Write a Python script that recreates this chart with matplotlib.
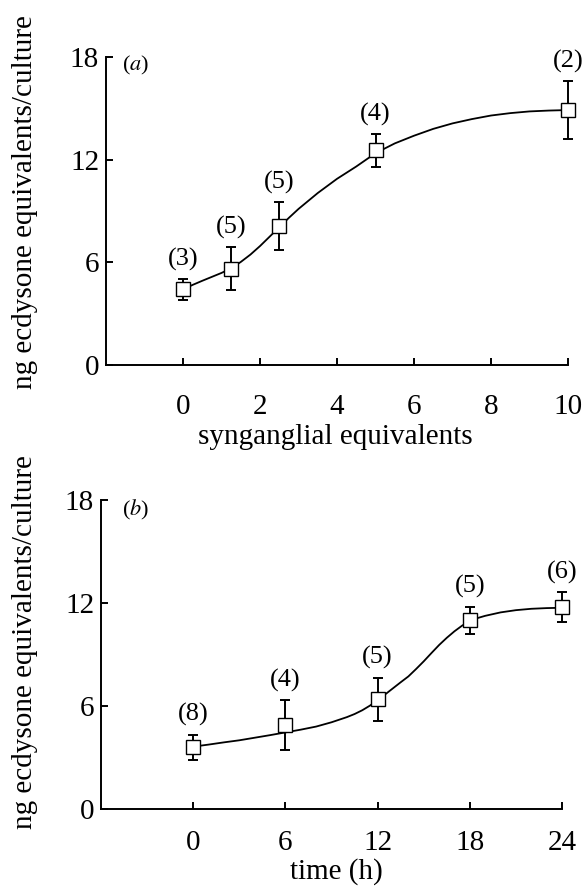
import matplotlib
matplotlib.use('Agg')
import matplotlib.pyplot as plt

plt.rcParams['font.family'] = 'serif'
plt.rcParams['font.serif'] = ['Liberation Serif', 'DejaVu Serif']
plt.rcParams['mathtext.fontset'] = 'stix'

# panel (a): synganglial equivalents
syn_x = [0, 1.25, 2.5, 5, 10]
syn_mean = [4.42, 5.63, 8.1, 12.55, 14.9]
syn_err = [0.6, 1.26, 1.4, 0.95, 1.7]
syn_n = ['(3)', '(5)', '(5)', '(4)', '(2)']
# fitted curve
syn_fit_x = [0, 0.25, 0.5, 0.75, 1.0, 1.25, 1.5, 1.75, 2.0, 2.25, 2.5, 2.75, 3.0,
             3.5, 4.0, 4.5, 5.0, 5.5, 6.0, 6.5, 7.0, 7.5, 8.0, 8.5, 9.0, 9.5, 10]
syn_fit_y = [4.42, 4.68, 4.92, 5.15, 5.38, 5.65, 6.02, 6.45, 6.95, 7.5, 8.05, 8.6, 9.12,
             10.05, 10.88, 11.6, 12.38, 12.95, 13.4, 13.8, 14.12, 14.37, 14.58,
             14.72, 14.82, 14.87, 14.9]

# panel (b): time course
time_x = [0, 6, 12, 18, 24]
time_mean = [3.6, 4.9, 6.4, 11.0, 11.75]
time_err = [0.72, 1.45, 1.25, 0.78, 0.88]
time_n = ['(8)', '(4)', '(5)', '(5)', '(6)']
time_fit_x = [0, 1, 2, 3, 4, 5, 6, 7, 8, 9, 10, 10.5, 11, 11.5, 12, 12.5, 13, 13.5,
              14, 14.5, 15, 15.5, 16, 16.5, 17, 17.5, 18, 18.5, 19, 20, 21, 22, 23, 24]
time_fit_y = [3.63, 3.75, 3.88, 4.0, 4.15, 4.3, 4.46, 4.62, 4.8, 5.05, 5.35, 5.53,
              5.75, 6.02, 6.35, 6.68, 7.03, 7.38, 7.72, 8.15, 8.6, 9.08, 9.55, 9.97,
              10.35, 10.68, 10.95, 11.12, 11.25, 11.45, 11.58, 11.66, 11.7, 11.72]

ylab = 'ng ecdysone equivalents/culture'
lw = 1.4


def panel(ax, x, m, e, n, fx, fy, xlim, xticks, tag, tag_pos, xpad):
    ax.plot(fx, fy, color='k', lw=1.3, zorder=2, clip_on=False)
    ax.errorbar(x, m, yerr=e, fmt='none', ecolor='k', elinewidth=lw,
                capsize=3.4, capthick=lw, zorder=2.5, clip_on=False)
    ax.plot(x, m, 's', ms=9.5, mfc='white', mec='k', mew=1.0, zorder=3,
            clip_on=False)
    for xi, mi, ei, lab in zip(x, m, e, n):
        ax.annotate(lab, (xi, mi + ei), xytext=(0, 6), textcoords='offset points',
                    ha='center', va='bottom', fontsize=19, annotation_clip=False)
    ax.set_xlim(*xlim)
    ax.set_ylim(0, 18)
    ax.set_xticks(xticks)
    ax.set_yticks([0, 6, 12, 18])
    ax.spines['top'].set_visible(False)
    ax.spines['right'].set_visible(False)
    ax.spines['left'].set_linewidth(lw)
    ax.spines['bottom'].set_linewidth(lw)
    ax.spines['bottom'].set_bounds(xlim[0], xticks[-1])
    ax.tick_params(axis='x', direction='in', length=5, width=lw, labelsize=21, pad=xpad)
    ax.tick_params(axis='y', direction='in', length=5, width=lw, labelsize=21, pad=5)
    ax.text(tag_pos[0], tag_pos[1], tag, transform=ax.transAxes,
            ha='left', va='center', fontsize=16)


fig = plt.figure(figsize=(5.86, 8.88), dpi=100)
ax1 = fig.add_axes([0.1809, 0.5890, 0.7884, 0.3468])
ax2 = fig.add_axes([0.1724, 0.0890, 0.7867, 0.3480])

panel(ax1, syn_x, syn_mean, syn_err, syn_n, syn_fit_x, syn_fit_y,
      (-2, 10), [0, 2, 4, 6, 8, 10], r'($\mathit{a}$)', (0.035, 0.974), 21)
panel(ax2, time_x, time_mean, time_err, time_n, time_fit_x, time_fit_y,
      (-6, 24), [0, 6, 12, 18, 24], r'($\mathit{b}$)', (0.046, 0.968), 15)

fig.text(335.5 / 586, 1 - 437 / 888, 'synganglial equivalents', ha='center',
         va='center', fontsize=21)
fig.text(336.5 / 586, 1 - 872 / 888, 'time (h)', ha='center', va='center',
         fontsize=21)
fig.text(25 / 586, 1 - 202 / 888, ylab, rotation=90, ha='center', va='center',
         fontsize=21)
fig.text(25 / 586, 1 - 642 / 888, ylab, rotation=90, ha='center', va='center',
         fontsize=21)

fig.savefig('out.png', dpi=100)
